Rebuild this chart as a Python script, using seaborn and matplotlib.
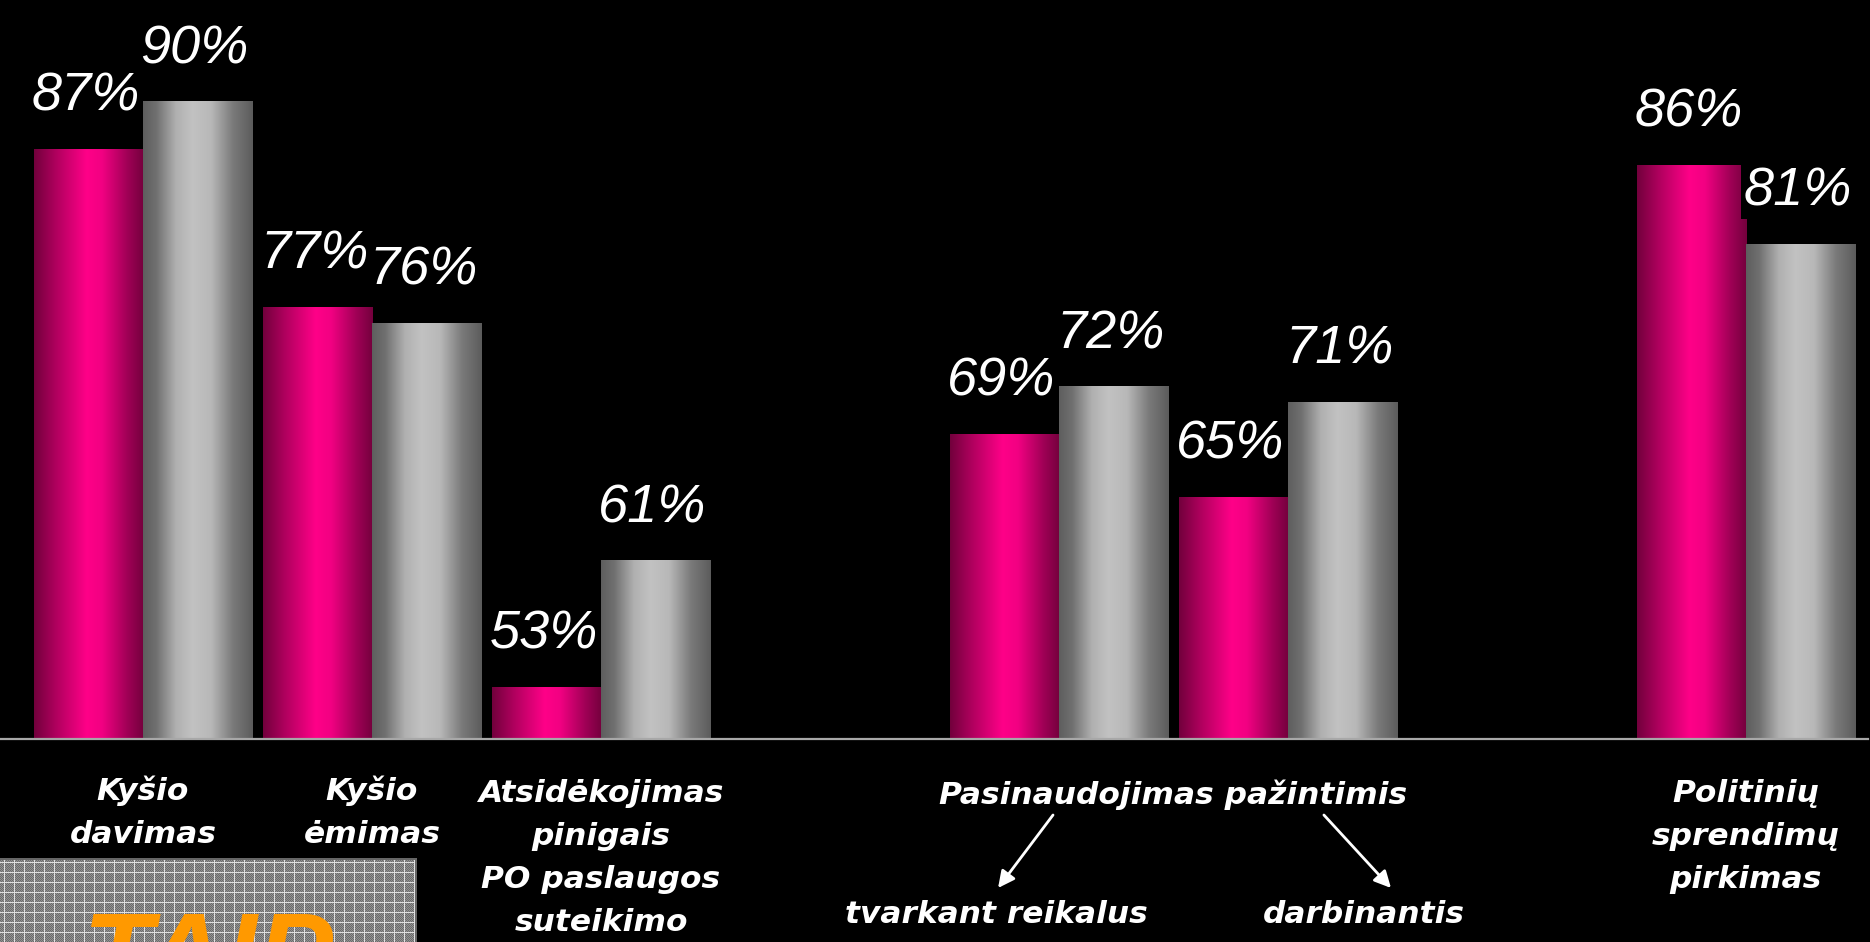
import numpy as np
import pandas as pd
import matplotlib
matplotlib.use("Agg")
import matplotlib.pyplot as plt
import seaborn as sns
from matplotlib.colors import LinearSegmentedColormap

# data
categories = ["Kyšio davimas", "Kyšio ėmimas", "Atsidėkojimas pinigais",
              "tvarkant reikalus", "darbinantis", "Politinių sprendimų pirkimas"]
pink_vals = [87, 77, 53, 69, 65, 86]
gray_vals = [90, 76, 61, 72, 71, 81]
series_names = ["rožinė", "pilka"]

# two empty slots between the groups on the slide
order = categories[:3] + ["tarpas1"] + categories[3:5] + ["tarpas2"] + categories[5:]

df = pd.DataFrame({
    "kategorija": categories * 2,
    "proc": pink_vals + gray_vals,
    "serija": [series_names[0]] * len(categories) + [series_names[1]] * len(categories),
})

sns.set_style("dark")
plt.rcParams["font.family"] = ["Liberation Sans", "DejaVu Sans"]

fig = plt.figure(figsize=(18.7, 9.42), dpi=100, facecolor="black")
ax = fig.add_axes([0, 203 / 942, 1868 / 1870, 739 / 942])
ax.set_facecolor("black")

sns.barplot(data=df, x="kategorija", y="proc", hue="serija", order=order,
            hue_order=series_names, palette=["#ff0084", "#b0b0b0"],
            width=0.952, saturation=1, errorbar=None, legend=False, ax=ax)

ylo, yhi = 49.7, 96.4
xlo, xhi = -0.6245, 7.533

pink_cm = LinearSegmentedColormap.from_list(
    "pink", [(0, "#72003c"), (0.2, "#b0005e"), (0.48, "#ff0088"), (0.62, "#f20082"),
             (0.85, "#a00056"), (1, "#74003d")])
gray_cm = LinearSegmentedColormap.from_list(
    "gray", [(0, "#5e5e5e"), (0.12, "#707070"), (0.3, "#b0b0b0"), (0.45, "#c2c2c2"),
             (0.62, "#b8b8b8"), (0.82, "#7a7a7a"), (1, "#5c5c5c")])
grad = np.linspace(0, 1, 256).reshape(1, -1)

for cont, cm in zip(ax.containers, [pink_cm, gray_cm]):
    for bar in cont:
        x0 = bar.get_x()
        w = bar.get_width()
        h = bar.get_height()
        bar.set_facecolor("none")
        bar.set_edgecolor("none")
        im = ax.imshow(grad, cmap=cm, aspect="auto", extent=[x0, x0 + w, ylo, h],
                       interpolation="bicubic", zorder=2)
        im.set_clip_path(bar)
        # percentage label above the bar
        ax.annotate(f"{h:.0f}%", xy=(x0 + w / 2, h), xytext=(-3, 38),
                    textcoords="offset pixels", ha="center", va="baseline",
                    fontsize=39, style="italic", color="white", zorder=5,
                    bbox=dict(facecolor="black", edgecolor="none", pad=1.5))

ax.set_xlim(xlo, xhi)
ax.set_ylim(ylo, yhi)
ax.set_xticks([])
ax.set_yticks([])
ax.set_xlabel("")
ax.set_ylabel("")
ax.grid(False)
for s in ["top", "left", "right"]:
    ax.spines[s].set_visible(False)
ax.spines["bottom"].set_visible(True)
ax.spines["bottom"].set_color("#a8a8a8")
ax.spines["bottom"].set_linewidth(1.6)

# category captions under the axis
lab_font = dict(family="DejaVu Sans", weight="bold", style="oblique",
                fontsize=22.5, color="white", ha="center", va="baseline")
captions = [
    (0, ["Kyšio", "davimas"], 800),
    (1, ["Kyšio", "ėmimas"], 800),
    (2, ["Atsidėkojimas", "pinigais", "PO paslaugos", "suteikimo"], 802),
    (4.5, ["Pasinaudojimas pažintimis"], 804),
    (3.725, ["tvarkant reikalus"], 923),
    (5.33, ["darbinantis"], 923),
    (7, ["Politinių", "sprendimų", "pirkimas"], 802),
]
xt = ax.get_xaxis_transform()
for xc, lines, base in captions:
    for i, line in enumerate(lines):
        ax.annotate(line, xy=(xc, 0), xycoords=xt,
                    xytext=(0, -(base + 43 * i - 739)), textcoords="offset pixels",
                    annotation_clip=False, **lab_font)

# arrows from the shared caption to the two sub-captions
arrow = dict(arrowstyle="-|>", color="white", lw=2, mutation_scale=25,
             shrinkA=0, shrinkB=0)
ax.annotate("", xy=(3.734, -(888 - 739) / 739), xytext=(3.974, -(815 - 739) / 739),
            xycoords=xt, textcoords=xt, arrowprops=arrow, annotation_clip=False)
ax.annotate("", xy=(5.45, -(888 - 739) / 739), xytext=(5.157, -(815 - 739) / 739),
            xycoords=xt, textcoords=xt, arrowprops=arrow, annotation_clip=False)

# TAIP logo box in the lower left corner (cut off by the slide edge)
lg = fig.add_axes([0, 0, 417 / 1870, 84 / 942])
yy, xx = np.mgrid[0:84, 0:417]
tex = np.where((xx + yy) % 2 == 0, 0.42, 0.58)
tex = np.where(((xx % 10) == 4) | ((yy % 10) == 4), 0.88, tex)
tex[:2, :] = 0.4
tex[:, -2:] = 0.4
lg.imshow(tex, cmap="gray", vmin=0, vmax=1, extent=[0, 1, 0, 1], aspect="auto",
          interpolation="nearest")
lg.text(0.2, -50 / 84, "TAIP", transform=lg.transAxes, fontsize=82,
        fontweight="bold", style="italic", color="#ff9900", ha="left",
        va="baseline", clip_on=True)
lg.set_axis_off()

fig.savefig("out.png", dpi=100, facecolor="black")
